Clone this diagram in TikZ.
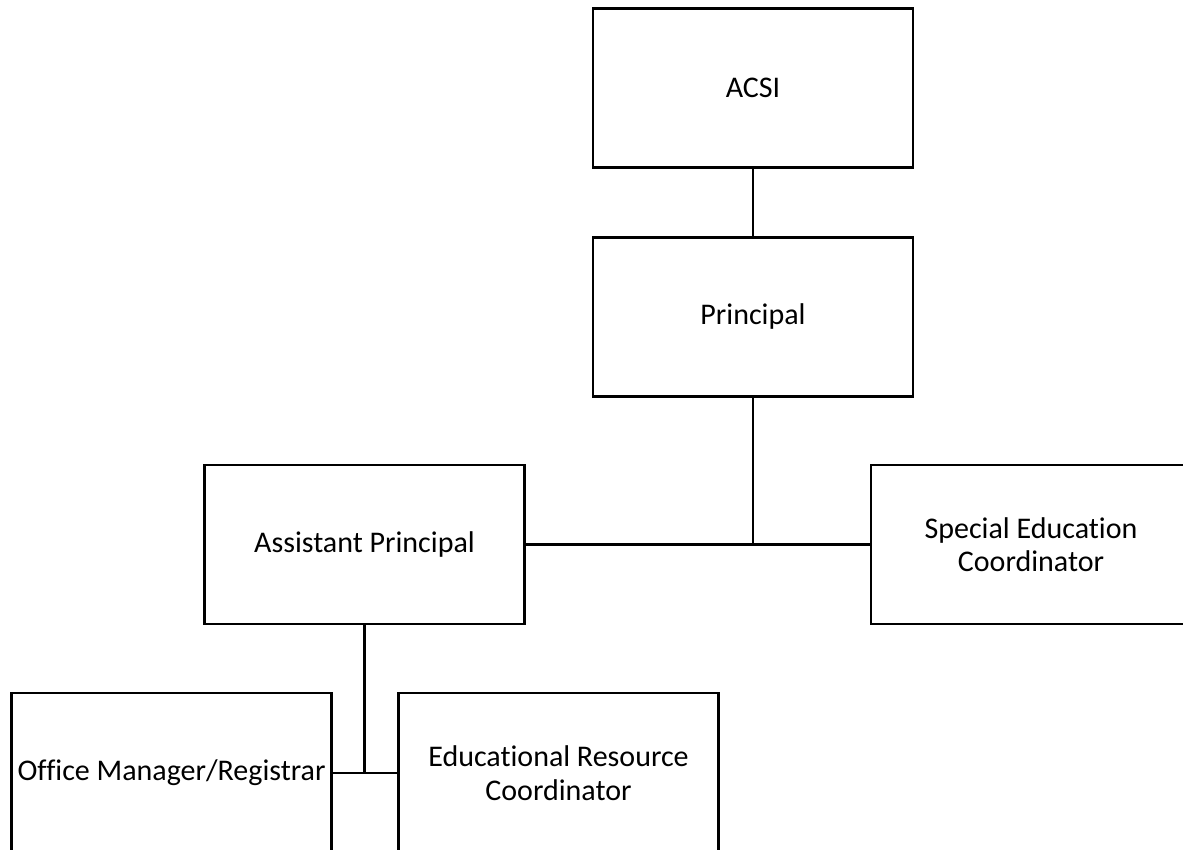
\documentclass[tikz,border=0pt]{standalone}
\usepackage{fontspec}
\setmainfont{Carlito}[Ligatures=NoCommon]
\begin{document}
\begin{tikzpicture}[x=1pt,y=-1pt,
  box/.style={draw=black, line width=2.3pt, minimum width=320pt, minimum height=159pt,
    inner sep=0pt, align=center, font=\fontsize{30}{33.5}\selectfont},
  link/.style={draw=black, line width=2.3pt}]
\useasboundingbox (0,0) rectangle (1183,850);
\clip (0,0) rectangle (1183,850);
\fill[white] (0,0) rectangle (1183,850);
\node[box] (acsi) at (753,88) {ACSI};
\node[box] (prin) at (753,317) {Principal};
\node[box] (asst) at (364.5,544.5) {Assistant Principal};
\node[box] (sped) at (1031,544.5) {Special Education\\Coordinator};
\node[box, minimum height=160pt] (om) at (171.5,773) {Office Manager/Registrar};
\node[box, minimum height=160pt] (erc) at (558.5,773) {Educational Resource\\Coordinator};
\draw[link] (acsi.south) -- (prin.north);
\draw[link] (asst.east) -- (sped.west);
\draw[link] (prin.south) -- (prin.south |- asst.east);
\draw[link] (om.east) -- (erc.west);
\draw[link] (asst.south) -- (asst.south |- om.east);
\end{tikzpicture}
\end{document}
